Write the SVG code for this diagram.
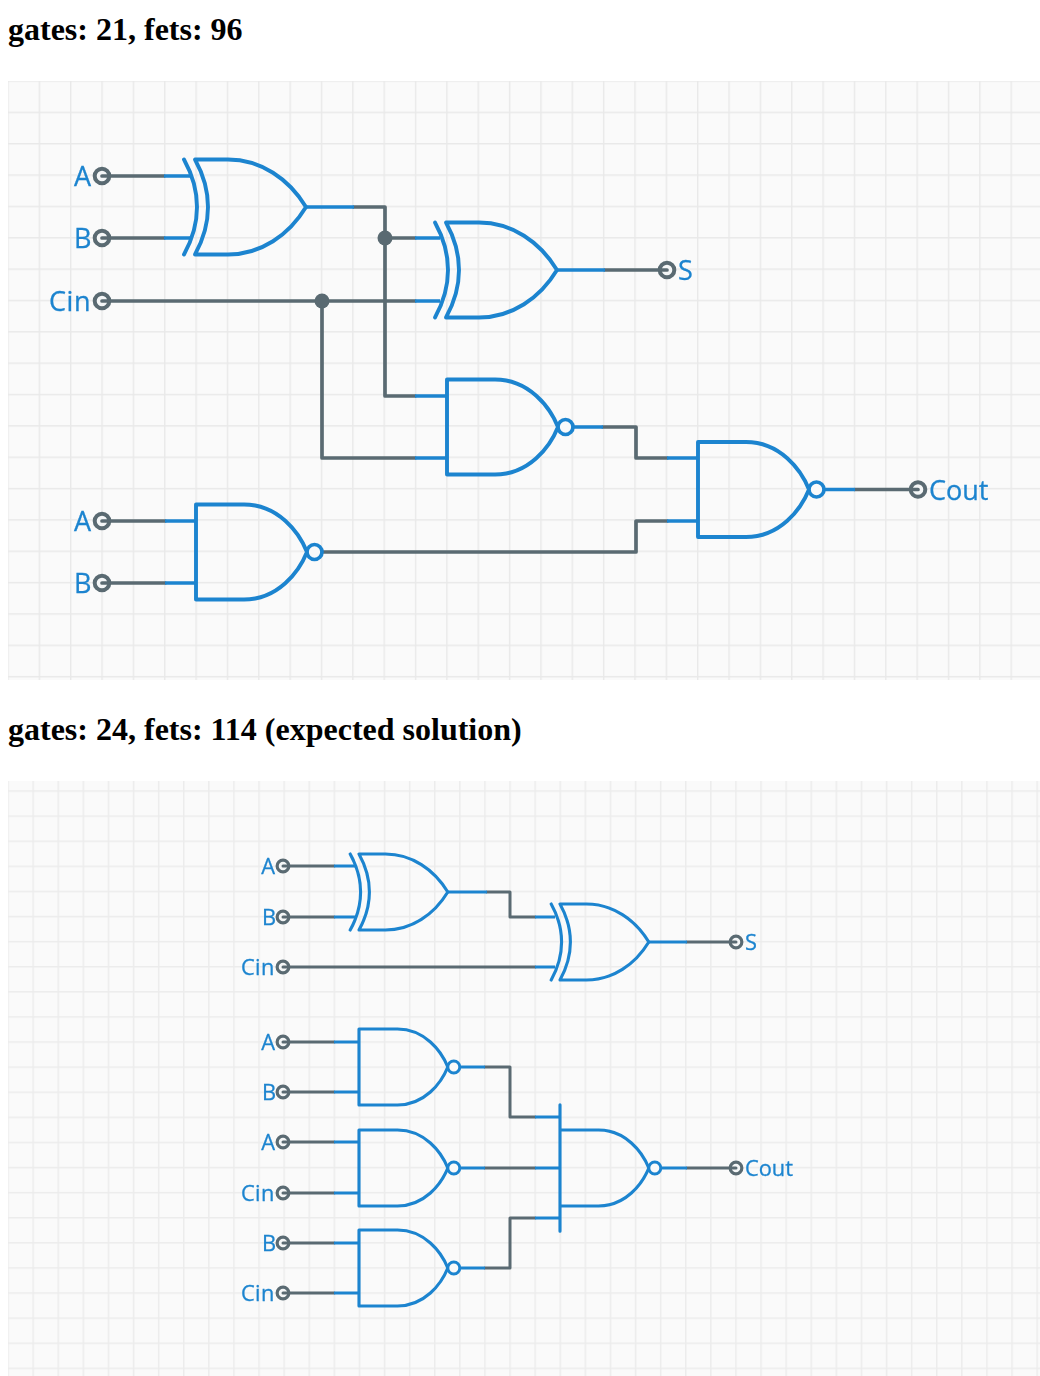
<svg xmlns="http://www.w3.org/2000/svg" width="1040" height="1376" viewBox="0 0 1040 1376">
<style>
.h{font-family:"Liberation Serif",serif;font-weight:bold;font-size:32px;fill:#000}
.g{fill:none;stroke:#1c84cf;stroke-width:3.9;stroke-linejoin:round;stroke-linecap:round}
.bub{fill:#fafafa;stroke:#1c84cf;stroke-width:3.7}
.tm{fill:#f4f6f7;stroke:#5a6b72;stroke-width:4}
.w{fill:none;stroke:#5a6b72;stroke-width:3.7;stroke-linejoin:round;stroke-linecap:round}
.b{fill:none;stroke:#1c84cf;stroke-width:3.7}
.w2{fill:none;stroke:#5a6b72;stroke-width:3;stroke-linejoin:round;stroke-linecap:round}
.b2{fill:none;stroke:#1c84cf;stroke-width:3}
.dot{fill:#5a6b72}
.l{font-family:"Open Sans","Liberation Sans",sans-serif;fill:#1c84cf;stroke:#1c84cf;stroke-width:.3}
.l1{font-size:27px}
.l2{font-size:21.8px}
.e{text-anchor:end}
</style>
<defs>
<filter id="soft" x="0" y="0" width="100%" height="100%"><feGaussianBlur stdDeviation="0.45"/></filter>
<pattern id="g1" x="7.300" y="80.300" width="31.35" height="31.35" patternUnits="userSpaceOnUse"><path d="M0.7 0V31.35M0 0.7H31.35" fill="none" stroke="#e9e9e9" stroke-width="1.5"/></pattern>
<pattern id="g2" x="7.300" y="790.300" width="25.1" height="25.1" patternUnits="userSpaceOnUse"><path d="M0.7 0V25.1M0 0.7H25.1" fill="none" stroke="#ececec" stroke-width="1.5"/></pattern>
<g id="xor"><path class="g" d="M0-47.5H33C66-47.5 94-28 111 0C94 28 66 47.5 33 47.5H0Q13 24 13 0Q13-24 0-47.5Z"/><path class="g" d="M-11-47.5Q2-24 2 0Q2 24-11 47.5"/></g>
<g id="nand"><path class="g" d="M0-47.5H48C82-47.5 103-20 111 0C103 20 82 47.5 48 47.5H0Z"/><circle class="bub" cx="118.500" cy="0" r="7.500"/></g>
<g id="nand3"><path class="g" d="M0-47.5H48C82-47.5 103-20 111 0C103 20 82 47.500 48 47.500H0M0-79V79"/><circle class="bub" cx="118.500" cy="0" r="7.500"/></g>
<circle id="t" class="tm" r="7.300"/>
</defs>
<rect width="1040" height="1376" fill="#fff"/>
<text class="h" x="8" y="40">gates: 21, fets: 96</text>
<text class="h" x="8" y="740">gates: 24, fets: 114 (expected solution)</text>
<g filter="url(#soft)">
<rect x="8" y="81" width="1032" height="599" fill="#fafafa"/>
<rect x="8" y="81" width="1032" height="599" fill="url(#g1)"/>
<rect x="8" y="781" width="1032" height="595" fill="#fafafa"/>
<rect x="8" y="781" width="1032" height="595" fill="url(#g2)"/>

<g id="a1"><use href="#t" x="102" y="176"/><text class="l l1 e" x="91" y="185.500">A</text></g>
<g id="b1"><use href="#t" x="102" y="238"/><text class="l l1 e" x="91.500" y="248">B</text></g>
<g id="cin1"><use href="#t" x="102" y="301"/><text class="l l1 e" x="91" y="310.500" letter-spacing=".5">Cin</text></g>
<g id="a2"><use href="#t" x="102" y="521"/><text class="l l1 e" x="91" y="530.500">A</text></g>
<g id="b2"><use href="#t" x="102" y="583"/><text class="l l1 e" x="91.500" y="593">B</text></g>
<g id="s1"><use href="#t" x="667" y="270"/><text class="l l1" x="678" y="279.500">S</text></g>
<g id="cout1"><use href="#t" x="918" y="489.500"/><text class="l l1" x="929" y="499.500">Cout</text></g>
<g id="a3"><use href="#t" transform="translate(283 866) scale(.8)"/><text class="l l2 e" x="275" y="873.500">A</text></g>
<g id="b3"><use href="#t" transform="translate(283 917) scale(.8)"/><text class="l l2 e" x="276" y="925">B</text></g>
<g id="cin3"><use href="#t" transform="translate(283 967) scale(.8)"/><text class="l l2 e" x="275" y="975" letter-spacing=".5">Cin</text></g>
<g id="a4"><use href="#t" transform="translate(283 1042) scale(.8)"/><text class="l l2 e" x="275" y="1049.500">A</text></g>
<g id="b4"><use href="#t" transform="translate(283 1092) scale(.8)"/><text class="l l2 e" x="276" y="1100">B</text></g>
<g id="a5"><use href="#t" transform="translate(283 1142) scale(.8)"/><text class="l l2 e" x="275" y="1149.500">A</text></g>
<g id="cin5"><use href="#t" transform="translate(283 1193) scale(.8)"/><text class="l l2 e" x="275" y="1200.500" letter-spacing=".5">Cin</text></g>
<g id="b6"><use href="#t" transform="translate(283 1243) scale(.8)"/><text class="l l2 e" x="276" y="1250.500">B</text></g>
<g id="cin6"><use href="#t" transform="translate(283 1293) scale(.8)"/><text class="l l2 e" x="275" y="1301" letter-spacing=".5">Cin</text></g>
<g id="s2"><use href="#t" transform="translate(736 942) scale(.8)"/><text class="l l2" x="745" y="949.500">S</text></g>
<g id="cout2"><use href="#t" transform="translate(736 1168) scale(.8)"/><text class="l l2" x="745" y="1175.500">Cout</text></g>

<g id="connectors">
<path class="w" d="M102 176H164M102 238H164M102 301H415M354 207H385V396H415M385 238H415M322 301V458H415M605 270H667M102 521H165M102 583H165M322 552H636V521H667M603 427H636V458H667M855 489.500H918"/>
<path class="b" d="M164 176H190M164 238H190M306 207H354M415 238H440M415 301H440M415 396H446M415 458H446M557 270H605M165 521H196M165 583H196M573 427H603M667 458H697M667 521H697M824 489.500H855"/>
<circle class="dot" cx="385" cy="238" r="7.500"/>
<circle class="dot" cx="322" cy="301" r="7.500"/>
<path class="w2" d="M283 866H334M283 917H334M283 967H535M487 892H510V917H535M687 942H736M283 1042H334M283 1092H334M283 1142H334M283 1193H334M283 1243H334M283 1293H334M485 1067H510V1117H535M485 1168H535M485 1268H510V1218H535M687 1168H736"/>
<path class="b2" d="M334 866H355M334 917H355M447 892H487M535 917H555M535 967H555M648 942H687M334 1042H359M334 1092H359M334 1142H359M334 1193H359M334 1243H359M334 1293H359M461 1067H485M461 1168H485M461 1268H485M535 1117H560M535 1168H560M535 1218H560M662 1168H687"/>
</g>

<g id="xor1"><use href="#xor" transform="translate(195 207)"/></g>
<g id="xor2"><use href="#xor" transform="translate(446 270)"/></g>
<g id="nand1"><use href="#nand" transform="translate(447 427)"/></g>
<g id="nand2"><use href="#nand" transform="translate(196 552)"/></g>
<g id="nand4"><use href="#nand" transform="translate(698 489.500)"/></g>
<g id="xor3"><use href="#xor" transform="translate(359 892) scale(.8)"/></g>
<g id="xor4"><use href="#xor" transform="translate(560 942) scale(.8)"/></g>
<g id="nand5"><use href="#nand" transform="translate(359 1067) scale(.8)"/></g>
<g id="nand6"><use href="#nand" transform="translate(359 1168) scale(.8)"/></g>
<g id="nand7"><use href="#nand" transform="translate(359 1268) scale(.8)"/></g>
<g id="nand8"><use href="#nand3" transform="translate(560 1168) scale(.8)"/></g>
</g>
</svg>
